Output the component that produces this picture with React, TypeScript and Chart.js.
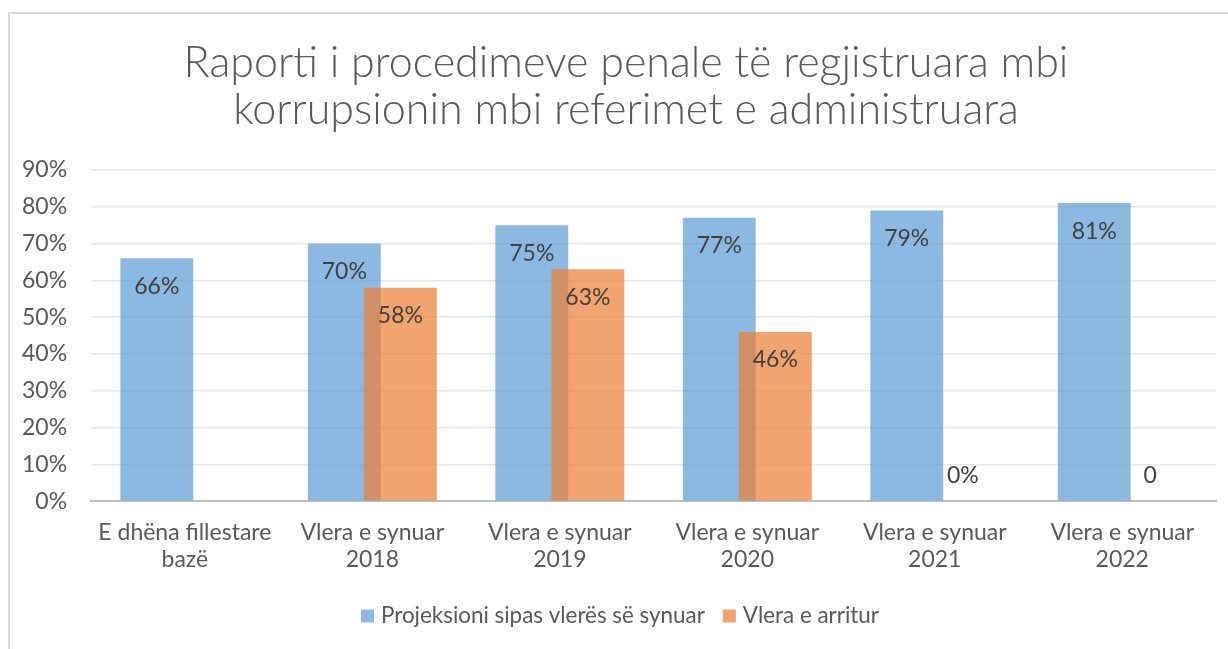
import React, { useEffect, useRef } from "react";
import { Chart, registerables } from "chart.js";

Chart.register(...registerables);

const categories: string[][] = [
  ["E dhëna fillestare", "bazë"],
  ["Vlera e synuar", "2018"],
  ["Vlera e synuar", "2019"],
  ["Vlera e synuar", "2020"],
  ["Vlera e synuar", "2021"],
  ["Vlera e synuar", "2022"],
];
const projectedValues: (number | null)[] = [66, 70, 75, 77, 79, 81];
const achievedValues: (number | null)[] = [null, 58, 63, 46, 0, 0];
const projectedLabels: string[] = ["66%", "70%", "75%", "77%", "79%", "81%"];
const achievedLabels: (string | null)[] = [null, "58%", "63%", "46%", "0%", "0"];
const seriesNames = ["Projeksioni sipas vlerës së synuar", "Vlera e arritur"];
const seriesColors = ["rgba(91,155,213,0.7)", "rgba(237,125,49,0.7)"];
const titleLines = [
  "Raporti i procedimeve penale të regjistruara mbi",
  "korrupsionin mbi referimet e administruara",
];

const FONT = "Lato, 'Open Sans', sans-serif";
const TXT = 23;

export default function App() {
  const ref = useRef<HTMLCanvasElement | null>(null);
  useEffect(() => {
    document.body.style.margin = "0";
    const canvas = ref.current!;
    let manual = false;
    const customPlugin = {
      id: "customDraw",
      beforeDraw(chart: any) {
        const ctx = chart.ctx;
        ctx.save();
        ctx.fillStyle = "#ffffff";
        ctx.fillRect(0, 0, chart.width, chart.height);
        ctx.strokeStyle = "#d9d9d9";
        ctx.lineWidth = 2;
        ctx.beginPath();
        ctx.moveTo(9, chart.height);
        ctx.lineTo(9, 13);
        ctx.lineTo(chart.width, 13);
        ctx.stroke();
        ctx.fillStyle = "#595959";
        ctx.font = `300 43px ${FONT}`;
        ctx.textAlign = "center";
        ctx.textBaseline = "middle";
        ctx.fillText(titleLines[0], 626, 63);
        ctx.fillText(titleLines[1], 626, 110);
        ctx.restore();
      },
      beforeDatasetDraw(chart: any, args: any) {
        if (args.index === 1 && !manual) return false;
        return true;
      },
      afterDatasetsDraw(chart: any) {
        const ctx = chart.ctx;
        manual = true;
        chart.getDatasetMeta(1).controller.draw();
        manual = false;
        ctx.save();
        ctx.font = `${TXT}px ${FONT}`;
        ctx.fillStyle = "#404040";
        ctx.textAlign = "center";
        ctx.textBaseline = "middle";
        const sets = [projectedLabels, achievedLabels];
        sets.forEach((labels, di) => {
          const meta = chart.getDatasetMeta(di);
          meta.data.forEach((bar: any, i: number) => {
            const txt = labels[i];
            const v = chart.data.datasets[di].data[i];
            if (txt == null || v == null) return;
            const y = v === 0 ? bar.base - 26 : bar.y + 28;
            ctx.fillText(txt, bar.x, y);
          });
        });
        ctx.restore();
      },
      afterDraw(chart: any) {
        const ctx = chart.ctx;
        ctx.save();
        ctx.font = `22.4px ${FONT}`;
        ctx.textBaseline = "middle";
        ctx.textAlign = "left";
        const box = 13, gapBox = 7, gapItem = 18;
        const widths = seriesNames.map((s) => ctx.measureText(s).width);
        let x = 361;
        const cy = 616;
        seriesNames.forEach((s, i) => {
          ctx.fillStyle = seriesColors[i];
          ctx.fillRect(x, cy - box / 2, box, box);
          x += box + gapBox;
          ctx.fillStyle = "#595959";
          ctx.fillText(s, x, cy);
          x += widths[i] + gapItem;
        });
        ctx.restore();
      },
    };
    const chart = new Chart(canvas, {
      type: "bar",
      data: {
        labels: categories,
        datasets: [
          {
            label: seriesNames[0],
            data: projectedValues,
            backgroundColor: seriesColors[0],
            categoryPercentage: 0.598,
            barPercentage: 1.3,
          },
          {
            label: seriesNames[1],
            data: achievedValues,
            backgroundColor: seriesColors[1],
            categoryPercentage: 0.598,
            barPercentage: 1.3,
          },
        ],
      },
      options: {
        responsive: false,
        animation: false,
        layout: { padding: { top: 170, left: -2, right: 12, bottom: 66 } },
        plugins: {
          title: { display: false },
          tooltip: { enabled: false },
          legend: { display: false },
        },
        scales: {
          x: {
            grid: { display: false },
            border: { display: true, color: "#bfbfbf", width: 2 },
            ticks: {
              color: "#595959",
              font: { family: FONT, size: TXT, lineHeight: 1.17 },
              padding: 10,
              maxRotation: 0,
              autoSkip: false,
            },
          },
          y: {
            min: 0,
            max: 90,
            ticks: {
              stepSize: 10,
              color: "#595959",
              font: { family: FONT, size: TXT },
              padding: 24,
              callback: (v: any) => v + "%",
            },
            grid: { color: "#e8e8e8", lineWidth: 1.5, drawTicks: false },
            border: { display: false },
          },
        },
      },
      plugins: [customPlugin],
    });
    return () => chart.destroy();
  }, []);
  return (
    <div style={{ width: 1228, height: 649 }}>
      <canvas ref={ref} width={1228} height={649} style={{ display: "block" }} />
    </div>
  );
}
